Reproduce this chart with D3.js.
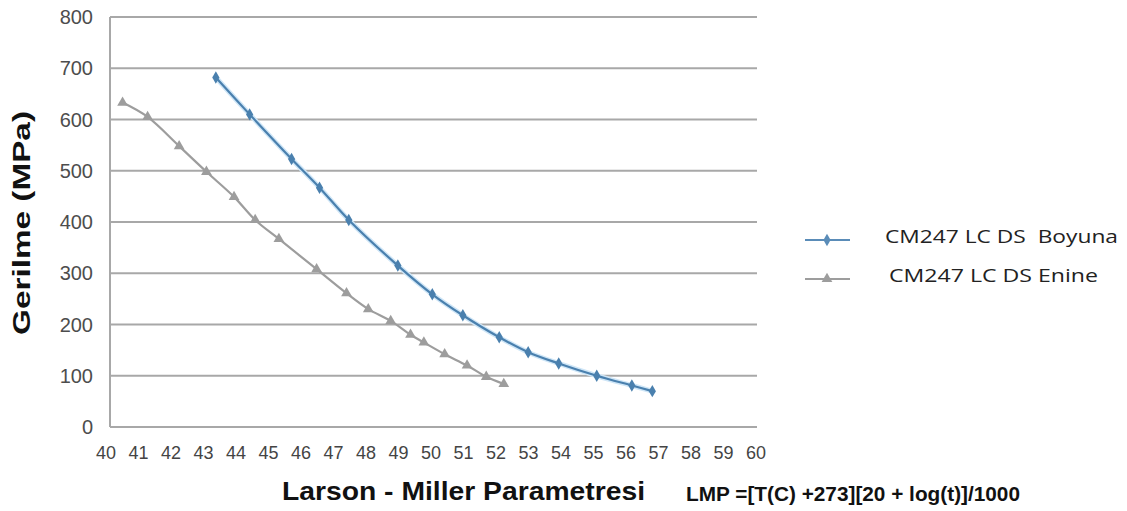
<!DOCTYPE html>
<html lang="en">
<head>
<meta charset="utf-8">
<title>Larson - Miller</title>
<script type="text/javascript" src="https://cdn.jsdelivr.net/npm/d3@7/dist/d3.min.js"></script>
<style>
  body { margin: 0; background: #fff; }
  svg { display: block; }
</style>
</head>
<body>
<div id="chart"></div>
<script type="text/javascript">
// values
const boyunaX = [43.38, 44.42, 45.71, 46.57, 47.47, 48.98, 50.04, 50.98, 52.10, 52.99, 53.93, 55.10, 56.18, 56.81];
const boyunaY = [682, 610, 523, 467, 404, 315, 259, 218, 175, 146, 124, 100, 81, 70];
const enineX = [40.51, 41.28, 42.25, 43.09, 43.94, 44.59, 45.32, 46.48, 47.40, 48.07, 48.76, 49.37, 49.78, 50.42, 51.11, 51.70, 52.24];
const enineY = [633, 605, 548, 498, 449, 404, 367, 308, 261, 230, 207, 180, 165, 142, 120, 98, 84];
const xTicks = d3.range(40, 61);
const yTicks = [0, 100, 200, 300, 400, 500, 600, 700, 800];
const seriesNames = ["CM247 LC DS  Boyuna", "CM247 LC DS Enine"];

const w = 1127;
const h = 511;
const plotLeft = 110;
const plotRight = 757;

let xScale = d3.scaleLinear()
  .domain([40, 60])
  .range([106, 756]);

let yScale = d3.scaleLinear()
  .domain([0, 800])
  .range([427, 17]);

let svg = d3.select("#chart")
  .append("svg")
  .attr("width", w)
  .attr("height", h);

// gridlines
svg.append("g")
  .selectAll("line")
  .data(yTicks)
  .enter()
  .append("line")
    .attr("x1", plotLeft)
    .attr("x2", plotRight)
    .attr("y1", (d) => yScale(d))
    .attr("y2", (d) => yScale(d))
    .attr("stroke", "#a8a8a8")
    .attr("stroke-width", 2);

svg.append("line")
  .attr("x1", plotLeft)
  .attr("x2", plotLeft)
  .attr("y1", yScale(800))
  .attr("y2", yScale(0))
  .attr("stroke", "#a8a8a8")
  .attr("stroke-width", 2);

// y tick labels
svg.append("g")
  .selectAll("text")
  .data(yTicks)
  .enter()
  .append("text")
    .attr("x", 93)
    .attr("y", (d) => yScale(d))
    .attr("dy", "0.35em")
    .attr("text-anchor", "end")
    .attr("font-family", "Liberation Sans, Arial, sans-serif")
    .attr("font-size", 20)
    .attr("fill", "#4d4d4d")
    .text((d) => d);

// x tick labels, narrow
svg.append("g")
  .selectAll("text")
  .data(xTicks)
  .enter()
  .append("text")
    .attr("x", (d) => xScale(d) - 10)
    .attr("y", 459)
    .attr("textLength", 20)
    .attr("lengthAdjust", "spacingAndGlyphs")
    .attr("font-family", "Liberation Sans, Arial, sans-serif")
    .attr("font-size", 19)
    .attr("fill", "#444")
    .text((d) => d);

// axis titles
svg.append("text")
  .attr("transform", "translate(30,223) rotate(-90)")
  .attr("x", -112)
  .attr("textLength", 224)
  .attr("lengthAdjust", "spacingAndGlyphs")
  .attr("font-family", "Liberation Sans, Arial, sans-serif")
  .attr("font-weight", "bold")
  .attr("font-size", 24)
  .attr("fill", "#111")
  .text("Gerilme (MPa)");

svg.append("text")
  .attr("x", 282)
  .attr("y", 500)
  .attr("textLength", 363)
  .attr("lengthAdjust", "spacingAndGlyphs")
  .attr("font-family", "Liberation Sans, Arial, sans-serif")
  .attr("font-weight", "bold")
  .attr("font-size", 25)
  .attr("fill", "#111")
  .text("Larson - Miller Parametresi");

svg.append("text")
  .attr("x", 686)
  .attr("y", 501)
  .attr("textLength", 334)
  .attr("lengthAdjust", "spacingAndGlyphs")
  .attr("font-family", "Liberation Sans, Arial, sans-serif")
  .attr("font-weight", "bold")
  .attr("font-size", 20)
  .attr("fill", "#111")
  .text("LMP =[T(C) +273][20 + log(t)]/1000");

const boyuna = boyunaX.map((d, i) => ({x: d, y: boyunaY[i]}));
const enine = enineX.map((d, i) => ({x: d, y: enineY[i]}));

let line = d3.line()
  .x((d) => xScale(d.x))
  .y((d) => yScale(d.y))
  .curve(d3.curveCatmullRom.alpha(0.5));

const diamond = d3.symbol().type(d3.symbolDiamond).size(45);
const triangle = d3.symbol().type(d3.symbolTriangle).size(50);

// gray series
svg.append("path")
  .datum(enine)
  .attr("d", line)
  .attr("fill", "none")
  .attr("stroke", "#9d9d9d")
  .attr("stroke-width", 2.2);

svg.append("g")
  .selectAll("path")
  .data(enine)
  .enter()
  .append("path")
    .attr("d", triangle)
    .attr("transform", (d) => `translate(${xScale(d.x)},${yScale(d.y)})`)
    .attr("fill", "#9d9d9d");

// blue series
svg.append("path")
  .datum(boyuna)
  .attr("d", line)
  .attr("fill", "none")
  .attr("stroke", "#cfe6f7")
  .attr("stroke-width", 5);

svg.append("path")
  .datum(boyuna)
  .attr("d", line)
  .attr("fill", "none")
  .attr("stroke", "#4a80ae")
  .attr("stroke-width", 2.2);

svg.append("g")
  .selectAll("path")
  .data(boyuna)
  .enter()
  .append("path")
    .attr("d", diamond)
    .attr("transform", (d) => `translate(${xScale(d.x)},${yScale(d.y)})`)
    .attr("fill", "#4a80ae");

// legend
const legendColors = ["#5a8cb8", "#9d9d9d"];
const legendY = [240, 279];
const legendTextX = [885, 889];
const legendTextW = [233, 209];
let legend = svg.append("g");

legend.selectAll("line")
  .data(seriesNames)
  .enter()
  .append("line")
    .attr("x1", 805)
    .attr("x2", 850)
    .attr("y1", (d, i) => legendY[i])
    .attr("y2", (d, i) => legendY[i])
    .attr("stroke", (d, i) => legendColors[i])
    .attr("stroke-width", 2.2);

legend.selectAll("path")
  .data(seriesNames)
  .enter()
  .append("path")
    .attr("d", (d, i) => i == 0 ? diamond() : triangle())
    .attr("transform", (d, i) => `translate(827,${legendY[i]})`)
    .attr("fill", (d, i) => legendColors[i]);

legend.selectAll("text")
  .data(seriesNames)
  .enter()
  .append("text")
    .attr("x", (d, i) => legendTextX[i])
    .attr("y", (d, i) => legendY[i] - 3)
    .attr("dy", "0.35em")
    .attr("textLength", (d, i) => legendTextW[i])
    .attr("lengthAdjust", "spacingAndGlyphs")
    .attr("font-family", "Open Sans, sans-serif")
    .attr("font-size", 18)
    .attr("fill", "#222")
    .style("white-space", "pre")
    .text((d) => d);
</script>
</body>
</html>
